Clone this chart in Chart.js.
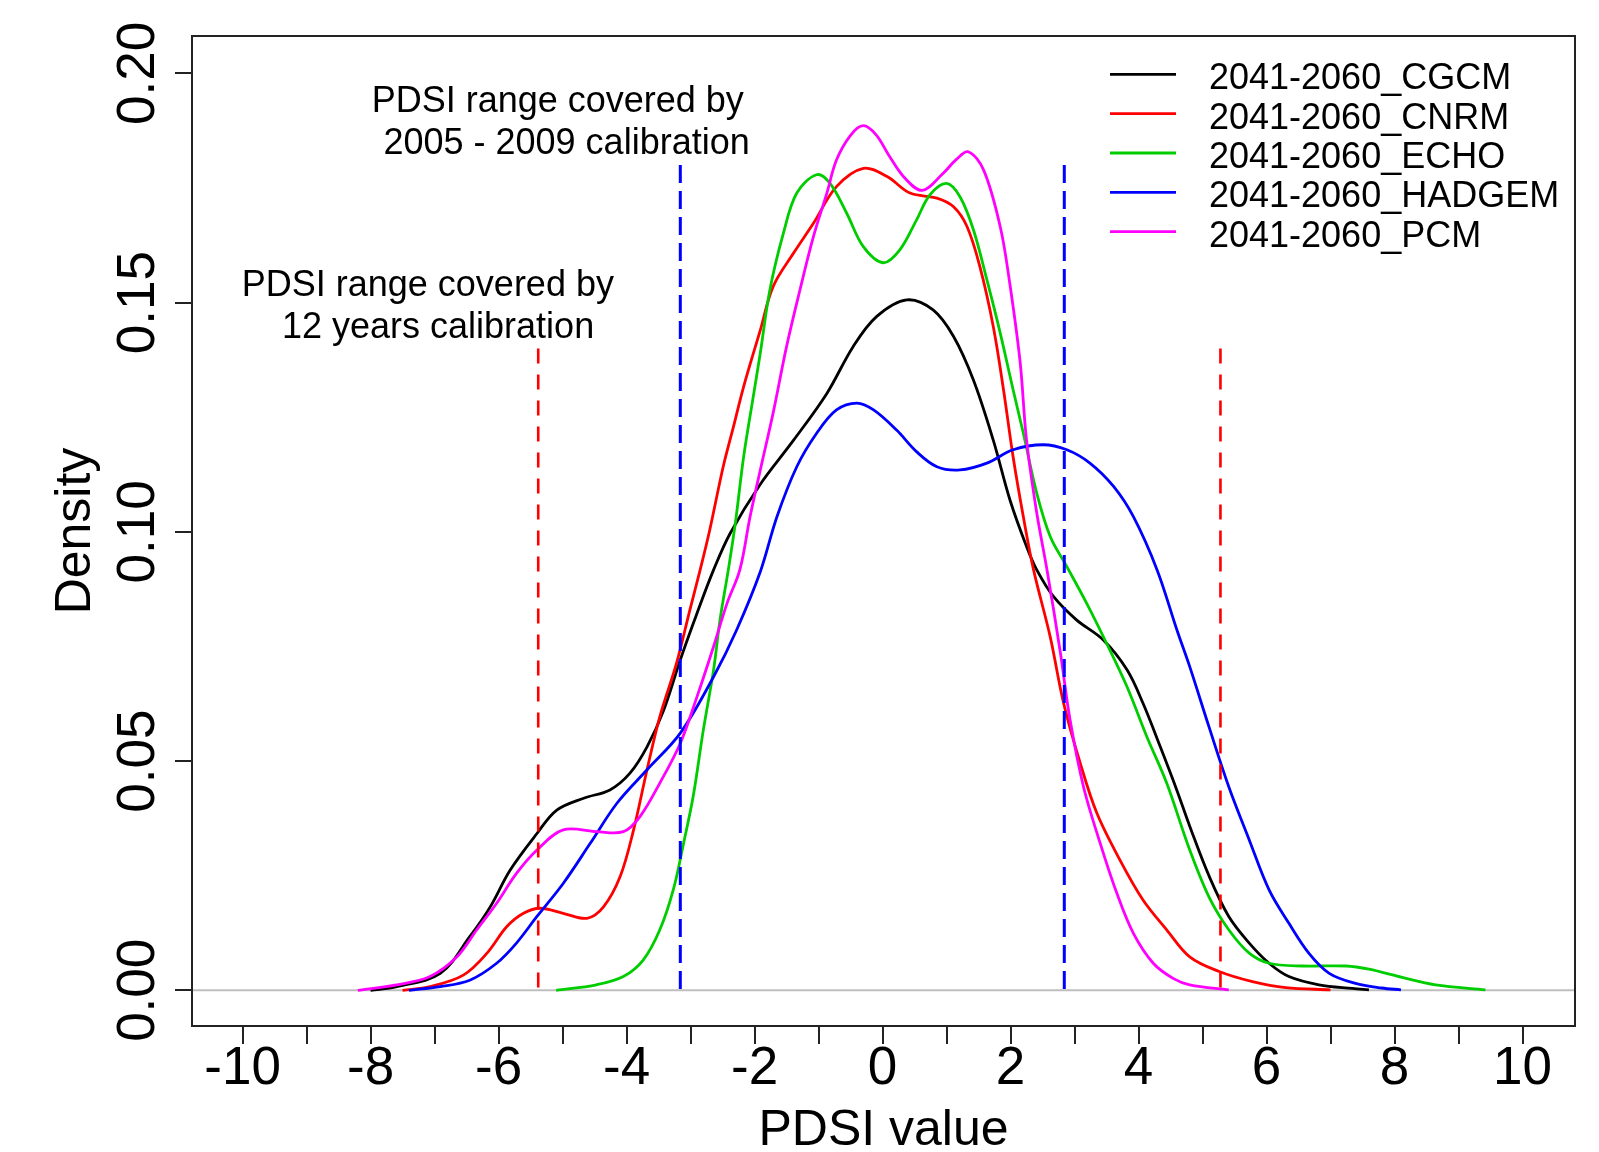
<!DOCTYPE html>
<html>
<head>
<meta charset="utf-8">
<title>PDSI density 2041-2060</title>
<script src="https://cdn.jsdelivr.net/npm/chart.js@4.4.1/dist/chart.umd.min.js"></script>
<style>
  html, body { margin: 0; padding: 0; background: #fff; }
  #wrap { width: 1599px; height: 1152px; }
</style>
</head>
<body>
<div id="wrap"><canvas id="densityChart" width="1599" height="1152"></canvas></div>
<script>
// model names and colours (R: black, red, green3, blue, magenta)
const models = ["2041-2060_CGCM", "2041-2060_CNRM", "2041-2060_ECHO", "2041-2060_HADGEM", "2041-2060_PCM"];
const modelColors = ["#000000", "#ff0000", "#00cd00", "#0000ff", "#ff00ff"];

// density curves (x = PDSI value, y = density)
const cgcmX = [-8.0, -7.59, -6.91, -6.45, -6.13, -5.82, -5.40, -5.09, -4.67, -4.26, -3.95, -3.68, -3.42, -3.16, -2.90, -2.64, -2.38, -1.91, -1.39, -0.87, -0.46, -0.09, 0.38, 0.79, 1.11, 1.42, 1.73, 1.99, 2.25, 2.41, 2.67, 3.03, 3.45, 3.82, 4.07, 4.34, 4.60, 4.80, 5.10, 5.41, 5.73, 6.04, 6.35, 6.82, 7.34, 7.6];
const cgcmY = [0, 0.0008, 0.0037, 0.0117, 0.0182, 0.0262, 0.0342, 0.0393, 0.0419, 0.0437, 0.0473, 0.0531, 0.0611, 0.0721, 0.0822, 0.0917, 0.0997, 0.1104, 0.1200, 0.1302, 0.1404, 0.1470, 0.1506, 0.1484, 0.1426, 0.1331, 0.1200, 0.1070, 0.0968, 0.0917, 0.0859, 0.0808, 0.0764, 0.0699, 0.0626, 0.0531, 0.0436, 0.0358, 0.0250, 0.0161, 0.0103, 0.0059, 0.0030, 0.0012, 0.0004, 0.0001];

const cnrmX = [-7.5, -7.07, -6.55, -6.18, -5.87, -5.61, -5.35, -4.99, -4.62, -4.36, -4.10, -3.89, -3.68, -3.48, -3.22, -3.01, -2.85, -2.70, -2.49, -2.33, -2.17, -1.91, -1.71, -1.39, -1.08, -0.72, -0.30, 0.07, 0.43, 0.85, 1.11, 1.32, 1.52, 1.73, 1.89, 2.04, 2.20, 2.36, 2.62, 2.83, 3.09, 3.35, 3.71, 4.07, 4.44, 4.80, 5.26, 5.78, 6.30, 7.0];
const cnrmY = [0, 0.0008, 0.0033, 0.0081, 0.0139, 0.0168, 0.0179, 0.0168, 0.0157, 0.0182, 0.0248, 0.0350, 0.0481, 0.0597, 0.0713, 0.0830, 0.0917, 0.1004, 0.1142, 0.1229, 0.1317, 0.1440, 0.1535, 0.1608, 0.1673, 0.1753, 0.1793, 0.1775, 0.1739, 0.1728, 0.1709, 0.1666, 0.1579, 0.1448, 0.1310, 0.1164, 0.1033, 0.0917, 0.0771, 0.0626, 0.0495, 0.0386, 0.0284, 0.0197, 0.0132, 0.0073, 0.0041, 0.0019, 0.0006, 0.0001];

const echoX = [-5.1, -4.47, -4.05, -3.74, -3.48, -3.27, -3.11, -2.96, -2.80, -2.64, -2.54, -2.41, -2.30, -2.17, -2.02, -1.91, -1.76, -1.55, -1.34, -1.03, -0.82, -0.56, -0.30, 0.01, 0.27, 0.53, 0.74, 1.00, 1.21, 1.42, 1.63, 1.84, 2.04, 2.20, 2.41, 2.62, 2.88, 3.19, 3.50, 3.82, 4.13, 4.44, 4.79, 5.10, 5.41, 5.73, 6.04, 6.56, 7.24, 7.60, 8.12, 8.64, 9.42];
const echoY = [0, 0.0012, 0.0030, 0.0066, 0.0132, 0.0219, 0.0320, 0.0422, 0.0568, 0.0699, 0.0808, 0.0917, 0.1019, 0.1164, 0.1295, 0.1390, 0.1528, 0.1651, 0.1739, 0.1779, 0.1760, 0.1695, 0.1622, 0.1587, 0.1615, 0.1680, 0.1735, 0.1760, 0.1731, 0.1659, 0.1550, 0.1433, 0.1310, 0.1215, 0.1084, 0.0990, 0.0924, 0.0844, 0.0757, 0.0662, 0.0553, 0.0452, 0.0310, 0.0204, 0.0132, 0.0081, 0.0059, 0.0053, 0.0053, 0.0046, 0.0028, 0.0012, 0.0001];

const hadgemX = [-7.4, -6.91, -6.45, -6.03, -5.72, -5.40, -4.99, -4.57, -4.15, -3.68, -3.16, -2.64, -2.28, -1.91, -1.65, -1.34, -1.03, -0.72, -0.40, -0.14, 0.22, 0.53, 0.85, 1.21, 1.63, 2.04, 2.51, 2.88, 3.24, 3.61, 3.92, 4.29, 4.60, 4.80, 5.10, 5.41, 5.73, 6.04, 6.35, 6.66, 6.98, 7.39, 7.8, 8.1];
const hadgemY = [0, 0.0008, 0.0022, 0.0059, 0.0103, 0.0161, 0.0233, 0.0320, 0.0408, 0.0481, 0.0561, 0.0684, 0.0786, 0.0913, 0.1033, 0.1142, 0.1215, 0.1266, 0.1281, 0.1266, 0.1222, 0.1175, 0.1142, 0.1135, 0.1150, 0.1179, 0.1190, 0.1179, 0.1150, 0.1099, 0.1033, 0.0917, 0.0786, 0.0706, 0.0575, 0.0444, 0.0328, 0.0219, 0.0146, 0.0081, 0.0037, 0.0015, 0.0005, 0.0001];

const pcmX = [-8.2, -7.59, -7.07, -6.65, -6.34, -6.03, -5.72, -5.40, -4.99, -4.47, -4.05, -3.79, -3.48, -3.16, -2.90, -2.64, -2.43, -2.23, -2.07, -1.91, -1.71, -1.50, -1.29, -1.08, -0.87, -0.72, -0.50, -0.30, -0.10, 0.10, 0.34, 0.62, 0.94, 1.15, 1.34, 1.58, 1.84, 1.99, 2.15, 2.25, 2.41, 2.57, 2.78, 2.93, 3.14, 3.40, 3.66, 3.92, 4.23, 4.54, 4.80, 5.41];
const pcmY = [0, 0.0012, 0.0030, 0.0073, 0.0132, 0.0190, 0.0255, 0.0306, 0.0350, 0.0346, 0.0346, 0.0379, 0.0452, 0.0539, 0.0640, 0.0750, 0.0844, 0.0917, 0.1033, 0.1135, 0.1259, 0.1404, 0.1528, 0.1644, 0.1739, 0.1811, 0.1865, 0.1886, 0.1866, 0.1821, 0.1773, 0.1745, 0.1781, 0.1812, 0.1829, 0.1789, 0.1665, 0.1540, 0.1370, 0.1200, 0.1041, 0.0917, 0.0735, 0.0590, 0.0444, 0.0321, 0.0212, 0.0124, 0.0059, 0.0026, 0.0012, 0.0001];

// calibration ranges (dashed verticals) and their heights
const range12Years = [-5.38, 5.28];
const range12Top = 0.14;
const range0509 = [-3.16, 2.84];
const range0509Top = 0.18;

// ticks
const xTicks = [-10, -9, -8, -7, -6, -5, -4, -3, -2, -1, 0, 1, 2, 3, 4, 5, 6, 7, 8, 9, 10];
const yTicks = [0, 0.05, 0.10, 0.15, 0.20];

// text notes (anchored in data units)
const noteLines = [
  { text: "PDSI range covered by", x: -5.075, y: 0.1915 },
  { text: "2005 - 2009 calibration", x: -4.937, y: 0.1824 },
  { text: "PDSI range covered by", x: -7.105, y: 0.1515 },
  { text: "12 years calibration", x: -6.945, y: 0.1422 }
];

const X_MIN = -10.79, X_MAX = 10.82;
const Y_MIN = -0.00779, Y_MAX = 0.20816;
const FONT = "'Liberation Sans', Arial, Helvetica, sans-serif";

Chart.defaults.font.family = FONT;
Chart.defaults.color = "#000";

function toPoints(xs, ys) {
  return xs.map((x, i) => ({ x, y: ys[i] }));
}

const curveX = [cgcmX, cnrmX, echoX, hadgemX, pcmX];
const curveY = [cgcmY, cnrmY, echoY, hadgemY, pcmY];

const datasets = [];

// abline(h = 0, col = "gray")
datasets.push({
  label: "zero",
  data: toPoints([X_MIN, X_MAX], [0, 0]),
  borderColor: "#bebebe",
  borderWidth: 2,
  order: 10
});

models.forEach((name, i) => {
  datasets.push({
    label: name,
    isModel: true,
    data: toPoints(curveX[i], curveY[i]),
    borderColor: modelColors[i],
    borderWidth: 2.8,
    tension: 0.35,
    order: 9 - i
  });
});

range12Years.forEach(v => {
  datasets.push({
    label: "12 years",
    data: toPoints([v, v], [range12Top, 0]),
    borderColor: "#ff0000",
    borderWidth: 2.6,
    borderDash: [15, 11],
    order: 1
  });
});
range0509.forEach(v => {
  datasets.push({
    label: "2005-2009",
    data: toPoints([v, v], [range0509Top, 0]),
    borderColor: "#0000ff",
    borderWidth: 3,
    borderDash: [18, 8],
    order: 0
  });
});

const boxPlugin = {
  id: "plotBox",
  afterDraw(chart) {
    const { ctx, chartArea: a } = chart;
    ctx.save();
    ctx.strokeStyle = "#222";
    ctx.lineWidth = 2;
    ctx.strokeRect(a.left, a.top, a.right - a.left, a.bottom - a.top);
    ctx.restore();
  }
};

const notesPlugin = {
  id: "notes",
  afterDraw(chart) {
    const { ctx, scales } = chart;
    ctx.save();
    ctx.font = "36px " + FONT;
    ctx.fillStyle = "#000";
    ctx.textAlign = "center";
    ctx.textBaseline = "alphabetic";
    noteLines.forEach(n => {
      ctx.fillText(n.text, scales.x.getPixelForValue(n.x), scales.y.getPixelForValue(n.y));
    });
    ctx.restore();
  }
};

// legend drawn inside the plot, top right, like R's legend(bty = "n")
const legendPlugin = {
  id: "innerLegend",
  afterDraw(chart) {
    const { ctx, chartArea: a } = chart;
    const items = chart.data.datasets.filter(d => d.isModel);
    ctx.save();
    ctx.font = "36px " + FONT;
    ctx.textAlign = "left";
    ctx.textBaseline = "middle";
    items.forEach((d, i) => {
      const y = a.top + 38.4 + i * 39.3;
      ctx.strokeStyle = d.borderColor;
      ctx.lineWidth = 2.8;
      ctx.beginPath();
      ctx.moveTo(a.right - 465, y);
      ctx.lineTo(a.right - 399, y);
      ctx.stroke();
      ctx.fillStyle = "#000";
      ctx.fillText(d.label, a.right - 366, y + 5);
    });
    ctx.restore();
  }
};

new Chart(document.getElementById("densityChart"), {
  type: "scatter",
  data: { datasets },
  options: {
    responsive: false,
    animation: false,
    events: [],
    showLine: true,
    elements: { point: { radius: 0 } },
    layout: { padding: { left: 0, top: 36, right: 24, bottom: 0 } },
    plugins: {
      legend: { display: false },
      tooltip: { enabled: false }
    },
    scales: {
      x: {
        type: "linear",
        min: X_MIN,
        max: X_MAX,
        afterBuildTicks: s => { s.ticks = xTicks.map(v => ({ value: v })); },
        afterFit: s => { s.height = 126; },
        border: { display: false },
        grid: { drawOnChartArea: false, drawTicks: true, tickLength: 18, color: "#222", lineWidth: 2 },
        ticks: {
          autoSkip: false,
          minRotation: 0,
          maxRotation: 0,
          padding: -1,
          font: { size: 53, lineHeight: 1 },
          callback: v => (v % 2 === 0 ? String(v) : "")
        },
        title: { display: true, text: "PDSI value", font: { size: 50, lineHeight: 1 }, padding: { top: 0, bottom: -4 } }
      },
      y: {
        type: "linear",
        min: Y_MIN,
        max: Y_MAX,
        afterBuildTicks: s => { s.ticks = yTicks.map(v => ({ value: v })); },
        afterFit: s => { s.width = 192; },
        border: { display: false },
        grid: { drawOnChartArea: false, drawTicks: true, tickLength: 17, color: "#222", lineWidth: 2 },
        ticks: {
          autoSkip: false,
          minRotation: 90,
          maxRotation: 90,
          crossAlign: "center",
          padding: -16,
          font: { size: 53, lineHeight: 1 },
          callback: v => v.toFixed(2)
        },
        title: { display: true, text: "Density", font: { size: 50, lineHeight: 1 }, padding: { top: 51, bottom: 0 } }
      }
    }
  },
  plugins: [boxPlugin, notesPlugin, legendPlugin]
});
</script>
</body>
</html>
